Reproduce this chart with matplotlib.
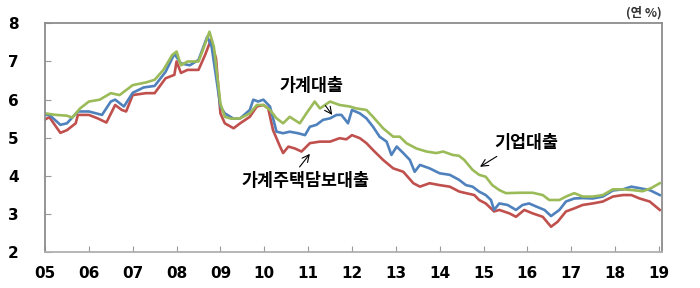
import matplotlib
matplotlib.use("Agg")
import matplotlib.pyplot as plt

plt.rcParams['font.family'] = ['DejaVu Sans', 'Noto Sans CJK KR']

# 기업대출 (green)
corp_t = [2005.00, 2005.25, 2005.50, 2005.62, 2005.80, 2006.00, 2006.25, 2006.50, 2006.70,
          2007.00, 2007.30, 2007.50, 2007.70, 2007.90, 2008.00, 2008.10, 2008.25, 2008.50,
          2008.60, 2008.75, 2008.85, 2009.00, 2009.10, 2009.25, 2009.45, 2009.67, 2009.83,
          2009.98, 2010.13, 2010.28, 2010.43, 2010.58, 2010.81, 2010.96, 2011.15, 2011.27,
          2011.50, 2011.72, 2011.95, 2012.10, 2012.33, 2012.48, 2012.71, 2012.94, 2013.09,
          2013.24, 2013.47, 2013.70, 2013.92, 2014.08, 2014.30, 2014.44, 2014.56, 2014.75,
          2014.90, 2015.05, 2015.20, 2015.36, 2015.51, 2015.82, 2016.12, 2016.35, 2016.50,
          2016.73, 2016.88, 2017.07, 2017.26, 2017.49, 2017.72, 2017.95, 2018.18, 2018.40,
          2018.63, 2018.82, 2019.02]
corp_v = [5.64, 5.60, 5.58, 5.53, 5.77, 5.95, 6.00, 6.17, 6.12,
          6.38, 6.45, 6.52, 6.78, 7.17, 7.26, 6.90, 7.00, 7.00,
          7.30, 7.78, 7.39, 5.90, 5.55, 5.50, 5.51, 5.64, 5.86,
          5.86, 5.73, 5.51, 5.38, 5.55, 5.38, 5.64, 5.95, 5.77,
          5.95, 5.86, 5.82, 5.77, 5.73, 5.55, 5.25, 5.03, 5.03,
          4.86, 4.72, 4.64, 4.60, 4.64, 4.55, 4.53, 4.42, 4.16,
          4.03, 3.98, 3.76, 3.63, 3.55, 3.56, 3.56, 3.50, 3.37,
          3.37, 3.46, 3.55, 3.46, 3.46, 3.50, 3.65, 3.65, 3.63,
          3.60, 3.68, 3.81]

# 가계대출 (blue)
hh_t = [2005.00, 2005.10, 2005.35, 2005.50, 2005.75, 2006.00, 2006.30, 2006.50, 2006.60,
        2006.80, 2007.00, 2007.25, 2007.50, 2007.75, 2007.95, 2008.10, 2008.30, 2008.50,
        2008.70, 2008.80, 2009.00, 2009.10, 2009.30, 2009.45, 2009.67, 2009.75, 2009.86,
        2009.98, 2010.13, 2010.28, 2010.43, 2010.58, 2010.77, 2010.93, 2011.04, 2011.19,
        2011.34, 2011.50, 2011.65, 2011.76, 2011.91, 2012.00, 2012.18, 2012.33, 2012.48,
        2012.63, 2012.79, 2012.90, 2013.02, 2013.17, 2013.32, 2013.43, 2013.55, 2013.77,
        2014.00, 2014.23, 2014.44, 2014.60, 2014.75, 2014.90, 2015.05, 2015.17, 2015.24,
        2015.36, 2015.55, 2015.74, 2015.89, 2016.04, 2016.20, 2016.39, 2016.54, 2016.73,
        2016.88, 2017.07, 2017.26, 2017.49, 2017.72, 2017.95, 2018.18, 2018.37, 2018.56,
        2018.79, 2019.02]
hh_v = [5.60, 5.60, 5.34, 5.38, 5.69, 5.69, 5.60, 5.95, 6.00,
        5.82, 6.18, 6.32, 6.36, 6.73, 7.20, 6.95, 6.90, 7.04,
        7.65, 7.39, 5.82, 5.64, 5.50, 5.51, 5.73, 6.00, 5.95,
        6.00, 5.82, 5.16, 5.12, 5.16, 5.12, 5.07, 5.29, 5.34,
        5.47, 5.51, 5.60, 5.60, 5.38, 5.73, 5.64, 5.51, 5.29,
        5.03, 4.90, 4.55, 4.77, 4.60, 4.42, 4.11, 4.29, 4.20,
        4.07, 4.03, 3.90, 3.76, 3.72, 3.59, 3.50, 3.37, 3.11,
        3.28, 3.24, 3.11, 3.24, 3.28, 3.20, 3.11, 2.95, 3.11,
        3.33, 3.41, 3.42, 3.41, 3.46, 3.62, 3.65, 3.72, 3.68,
        3.63, 3.50]

# 가계주택담보대출 (red)
mort_t = [2005.00, 2005.10, 2005.35, 2005.50, 2005.70, 2005.75, 2006.00, 2006.20, 2006.40,
          2006.60, 2006.75, 2006.85, 2007.00, 2007.30, 2007.50, 2007.75, 2007.95, 2008.00,
          2008.10, 2008.25, 2008.50, 2008.65, 2008.78, 2008.90, 2009.00, 2009.10, 2009.30,
          2009.45, 2009.67, 2009.83, 2009.98, 2010.09, 2010.20, 2010.36, 2010.43, 2010.55,
          2010.70, 2010.85, 2011.04, 2011.27, 2011.50, 2011.72, 2011.87, 2012.00, 2012.18,
          2012.33, 2012.48, 2012.71, 2012.94, 2013.17, 2013.40, 2013.55, 2013.77, 2014.00,
          2014.23, 2014.45, 2014.60, 2014.79, 2014.90, 2015.05, 2015.17, 2015.24, 2015.36,
          2015.59, 2015.74, 2015.93, 2016.12, 2016.35, 2016.54, 2016.69, 2016.88, 2017.07,
          2017.26, 2017.49, 2017.72, 2017.95, 2018.18, 2018.37, 2018.56, 2018.79, 2019.02]
mort_v = [5.48, 5.54, 5.13, 5.20, 5.38, 5.60, 5.60, 5.51, 5.40,
          5.86, 5.73, 5.69, 6.12, 6.17, 6.17, 6.56, 6.65, 7.00,
          6.70, 6.78, 6.78, 7.17, 7.56, 7.08, 5.64, 5.38, 5.25,
          5.38, 5.55, 5.82, 5.86, 5.77, 5.20, 4.77, 4.60, 4.77,
          4.72, 4.64, 4.86, 4.90, 4.90, 4.99, 4.96, 5.07, 4.99,
          4.86, 4.68, 4.42, 4.20, 4.11, 3.81, 3.72, 3.81, 3.76,
          3.72, 3.59, 3.55, 3.50, 3.37, 3.28, 3.15, 3.07, 3.11,
          3.02, 2.93, 3.11, 3.02, 2.93, 2.67, 2.80, 3.07, 3.15,
          3.24, 3.28, 3.33, 3.46, 3.50, 3.50, 3.41, 3.33, 3.11]

years = list(range(2005, 2020))
year_labels = ["05", "06", "07", "08", "09", "10", "11", "12", "13", "14",
               "15", "16", "17", "18", "19"]
y_ticks = [2, 3, 4, 5, 6, 7, 8]

fig = plt.figure(figsize=(7.0, 2.88), dpi=100)
ax = fig.add_axes([0.0643, 0.124, 0.8814, 0.795])

ax.plot(mort_t, mort_v, color="#C0504D", lw=1.9, solid_joinstyle="round")
ax.plot(hh_t, hh_v, color="#4F81BD", lw=1.9, solid_joinstyle="round")
ax.plot(corp_t, corp_v, color="#9BBB59", lw=1.9, solid_joinstyle="round")

ax.set_xlim(2005.0, 2019.07)
ax.set_ylim(2, 8)
ax.set_xticks(years)
ax.set_xticklabels(year_labels)
ax.set_yticks(y_ticks)
ax.tick_params(axis="x", direction="in", length=4, color="#999999", pad=10,
               labelsize=11)
ax.tick_params(axis="y", direction="in", length=4, color="#999999", pad=19,
               labelsize=11)
for lab in ax.get_xticklabels() + ax.get_yticklabels():
    lab.set_fontweight("bold")
for s in ax.spines.values():
    s.set_color("#8c8c8c")
    s.set_linewidth(1.3)
ax.spines["bottom"].set_color("#b0b0b0")

kfont = ["Noto Sans CJK KR", "DejaVu Sans"]
arrow = dict(arrowstyle="->", color="black", lw=0.8)
ax.annotate("가계대출", xy=(2011.55, 5.60), xytext=(2011.07, 6.36),
            ha="center", va="center", fontsize=12.5, fontweight="bold",
            family=kfont, arrowprops=dict(arrow, shrinkA=7, shrinkB=0,
                                          relpos=(0.6, 0.0)))
ax.annotate("가계주택담보대출", xy=(2011.04, 4.58), xytext=(2010.95, 3.87),
            ha="center", va="center", fontsize=12.5, fontweight="bold",
            family=kfont, arrowprops=dict(arrow, shrinkA=2, shrinkB=0,
                                          relpos=(0.42, 1.0)))
ax.annotate("기업대출", xy=(2014.92, 4.24), xytext=(2015.97, 4.86),
            ha="center", va="center", fontsize=12.5, fontweight="bold",
            family=kfont, arrowprops=dict(arrow, shrinkA=2, shrinkB=0,
                                          relpos=(0.15, 0.0)))
ax.text(1.0, 1.015, "(연 %)", transform=ax.transAxes, ha="right", va="bottom",
        fontsize=9, fontweight="bold", family=kfont, color="#333333")

fig.savefig("out.png", dpi=100)
